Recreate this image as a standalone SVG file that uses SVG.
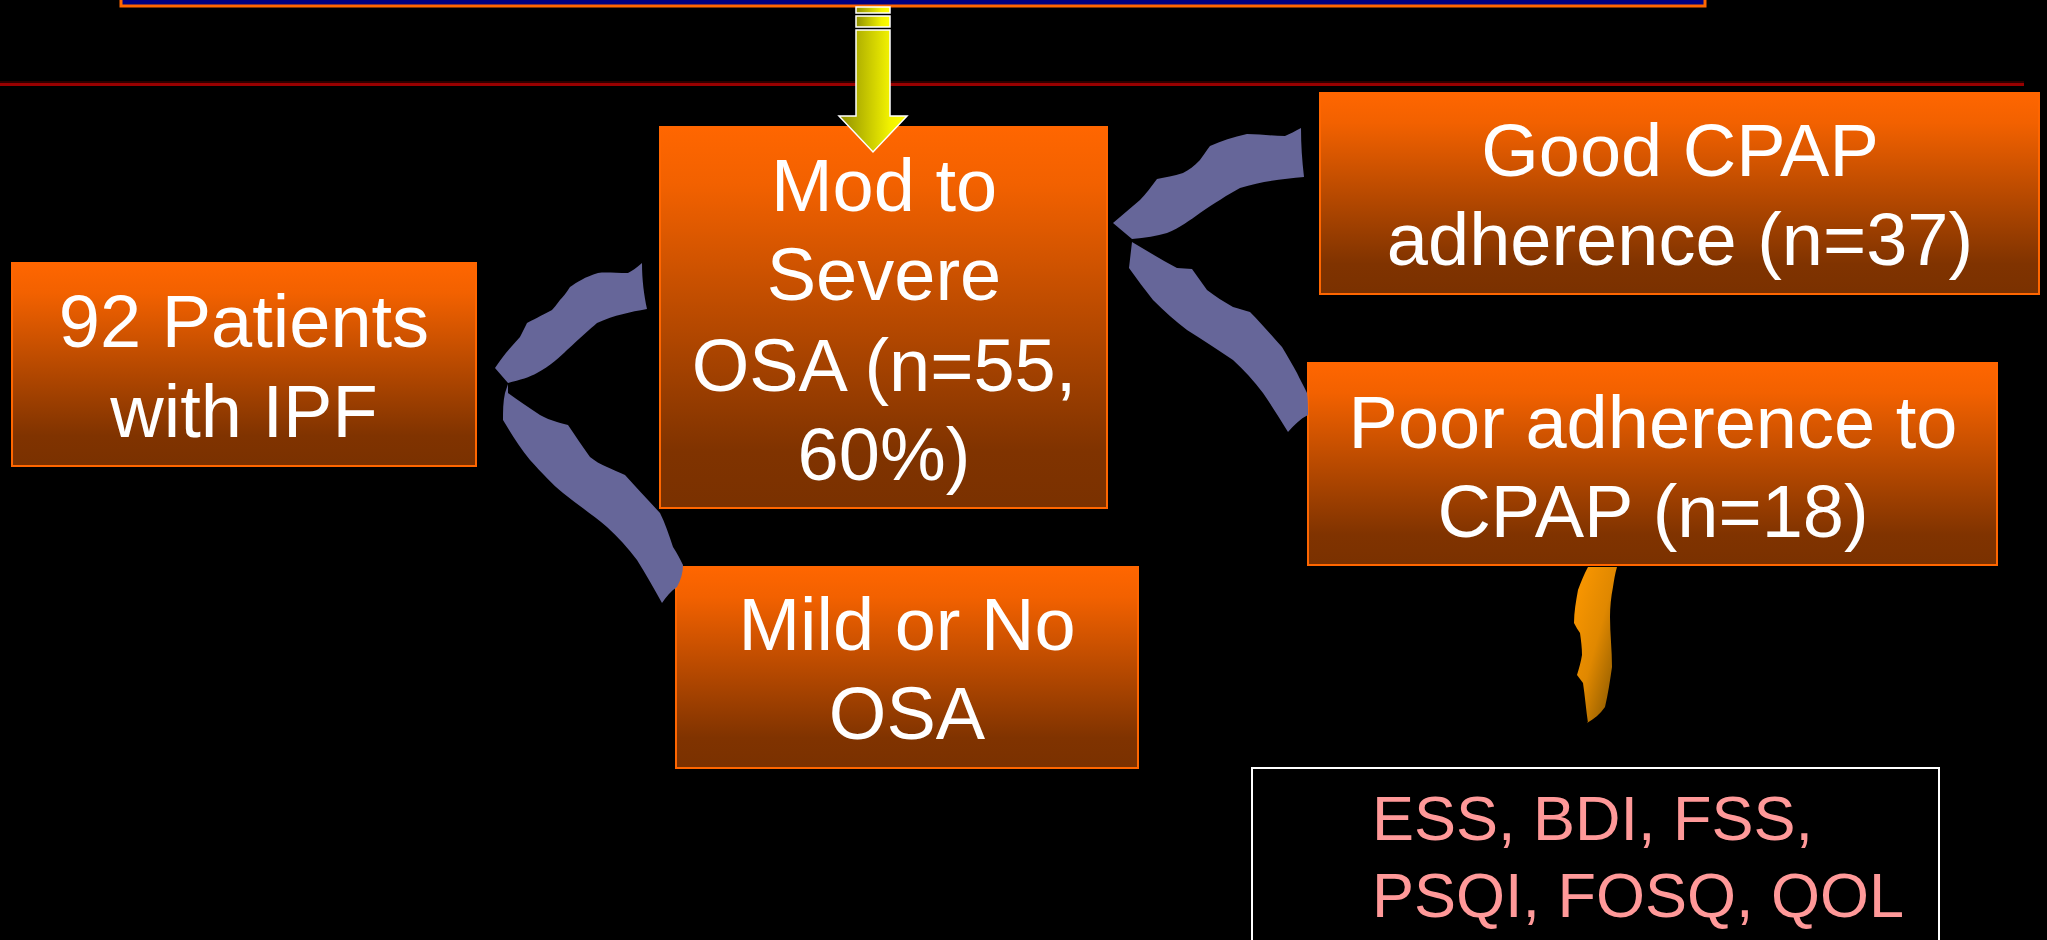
<svg xmlns="http://www.w3.org/2000/svg" width="2047" height="940" viewBox="0 0 2047 940">
<defs>
<linearGradient id="nodeGrad" x1="0" y1="0" x2="0" y2="1">
<stop offset="0" stop-color="#ff6600"/>
<stop offset="0.15" stop-color="#f26100"/>
<stop offset="0.85" stop-color="#803300"/>
<stop offset="1" stop-color="#7a3100"/>
</linearGradient>
<linearGradient id="arrowGrad" x1="0" y1="0" x2="1" y2="0">
<stop offset="0" stop-color="#8f8f00"/>
<stop offset="0.75" stop-color="#f2f200"/>
<stop offset="1" stop-color="#ffff00"/>
</linearGradient>
<linearGradient id="orangeGrad" x1="0" y1="0" x2="1" y2="1">
<stop offset="0" stop-color="#ff9900"/>
<stop offset="0.5" stop-color="#e08800"/>
<stop offset="1" stop-color="#7a5000"/>
</linearGradient>
<style>
.node{fill:url(#nodeGrad);stroke:#ff6600;stroke-width:2}
.lbl{font-family:"Liberation Sans",Arial,sans-serif;font-size:74px;fill:#ffffff;text-anchor:middle}
.brace{fill:#666699}
.pink{font-family:"Liberation Sans",Arial,sans-serif;font-size:63px;fill:#ff9999}
</style>
</defs>
<rect x="0" y="0" width="2047" height="940" fill="#000000"/>
<!-- top banner -->
<rect x="121" y="-20" width="1584" height="26" fill="#000080" stroke="#ff6600" stroke-width="3"/>
<!-- red rule -->
<line x1="0" y1="82" x2="2024" y2="82" stroke="#3a0000" stroke-width="1.5"/>
<line x1="0" y1="84.5" x2="2024" y2="84.5" stroke="#990000" stroke-width="3"/>

<g id="node-patients">
<rect class="node" x="12" y="263" width="464" height="203"/>
<text class="lbl" x="244" y="347">92 Patients</text>
<text class="lbl" x="244" y="437">with IPF</text>
</g>
<g id="node-mod-severe">
<rect class="node" x="660" y="127" width="447" height="381"/>
<text class="lbl" x="884" y="211">Mod to</text>
<text class="lbl" x="884" y="300">Severe</text>
<text class="lbl" x="884" y="391">OSA (n=55,</text>
<text class="lbl" x="884" y="480">60%)</text>
</g>
<g id="node-mild">
<rect class="node" x="676" y="567" width="462" height="201"/>
<text class="lbl" x="907" y="650">Mild or No</text>
<text class="lbl" x="907" y="739">OSA</text>
</g>
<g id="node-good">
<rect class="node" x="1320" y="93" width="719" height="201"/>
<text class="lbl" x="1680" y="176">Good CPAP</text>
<text class="lbl" x="1680" y="265">adherence (n=37)</text>
</g>
<g id="node-poor">
<rect class="node" x="1308" y="363" width="689" height="202"/>
<text class="lbl" x="1653" y="448">Poor adherence to</text>
<text class="lbl" x="1653" y="537">CPAP (n=18)</text>
</g>
<g id="node-outcomes">
<rect x="1252" y="768" width="687" height="200" fill="#000000" stroke="#ffffff" stroke-width="2"/>
<text class="pink" x="1372" y="840">ESS, BDI, FSS,</text>
<text class="pink" x="1372" y="917">PSQI, FOSQ, QOL</text>
</g>

<g id="connectors">
<path id="brace-left-up" class="brace" d="M492,363 L495,368 L508,383 C520,380 530,377 537,373 C550,366 560,357 567,350 C580,338 590,329 597,323 C615,315 630,312 647,309 C644,295 642,280 642,263 C636,268 632,271 628,273 C615,273 605,272 598,273 C585,277 577,282 570,287 C566,293 563,297 560,300 C556,305 554,308 552,310 C540,316 533,320 527,323 C524,329 522,333 520,337 C510,348 502,357 495,368 Z"/>
<path id="brace-left-down" class="brace" d="M508,384 L505,393 C503,402 503,411 503,420 C512,435 520,448 530,460 C542,473 552,484 563,493 C578,505 593,515 607,527 C618,537 628,548 637,560 C646,574 654,589 662,603 C666,597 671,591 677,587 C681,580 683,572 683,565 C680,559 677,553 673,547 C669,535 665,523 660,513 C648,500 636,487 625,475 C618,472 612,469 607,467 C600,464 595,461 590,457 C582,446 575,435 568,425 C564,424 560,423 557,422 C551,420 545,418 540,415 C529,408 518,400 508,393 Z"/>
<path id="brace-right-up" class="brace" d="M1109,217 L1113,223 L1132,239 C1145,238 1157,236 1167,233 C1180,228 1190,220 1200,213 C1215,203 1227,195 1240,188 C1262,181 1283,179 1304,177 C1302,160 1301,145 1301,128 C1295,131 1290,134 1285,136 C1272,136 1260,134 1247,134 C1233,137 1221,141 1210,146 C1206,151 1203,156 1200,160 C1194,166 1189,170 1183,173 C1174,176 1165,177 1157,179 C1151,187 1146,194 1140,200 C1131,208 1122,215 1113,223 Z"/>
<path id="brace-right-down" class="brace" d="M1132,242 L1129,268 C1137,279 1145,290 1153,300 C1164,311 1175,321 1187,330 C1203,340 1218,350 1233,360 C1244,370 1254,381 1263,393 C1272,406 1280,419 1288,432 C1294,425 1300,419 1308,415 C1308,408 1308,400 1307,393 C1304,386 1300,380 1297,373 C1292,364 1287,355 1282,347 C1271,335 1261,323 1250,312 C1244,310 1239,309 1233,307 C1224,302 1215,296 1207,290 C1202,283 1197,276 1192,269 C1187,269 1182,268 1177,268 C1162,260 1147,251 1132,242 Z"/>
<path id="orange-connector" fill="url(#orangeGrad)" d="M1588,567 L1617,567 C1615,574 1614,580 1613,587 C1611,597 1610,607 1610,617 C1610,634 1612,650 1612,667 C1610,681 1608,694 1605,707 C1600,714 1594,719 1587,723 L1588,723 C1586,710 1585,696 1583,683 C1581,680 1579,678 1577,675 C1579,668 1581,662 1582,655 C1582,648 1581,640 1580,633 C1578,630 1576,627 1574,623 C1574,612 1576,601 1578,590 C1581,582 1584,574 1588,567 Z"/>
<g id="arrow-down">
<rect x="856" y="7" width="34" height="6" fill="url(#arrowGrad)" stroke="#ffffff" stroke-width="1.5"/>
<rect x="856" y="16" width="34" height="11" fill="url(#arrowGrad)" stroke="#ffffff" stroke-width="1.5"/>
<polygon points="856,30 890,30 890,116 907,116 873,152 839,116 856,116" fill="url(#arrowGrad)" stroke="#ffffff" stroke-width="1.5"/>
</g>
</g>
</svg>
